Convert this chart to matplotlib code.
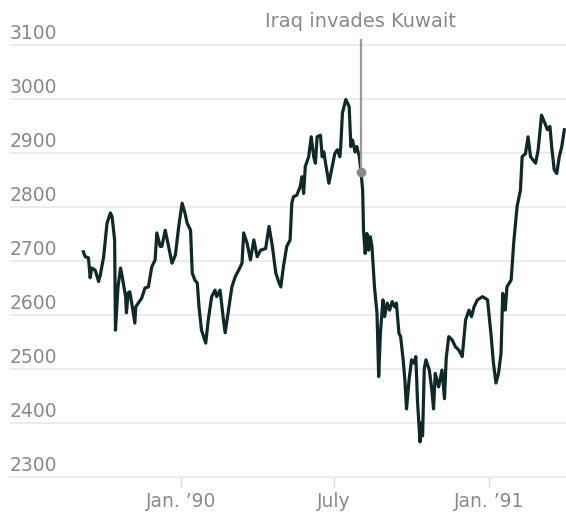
import matplotlib
matplotlib.use("Agg")
import matplotlib.pyplot as plt
import pandas as pd

# Dow Jones daily close
dates = [
    "1989-09-07", "1989-09-09", "1989-09-13", "1989-09-15", "1989-09-17", "1989-09-21",
    "1989-09-25", "1989-09-27", "1989-10-01", "1989-10-05", "1989-10-09", "1989-10-11",
    "1989-10-14", "1989-10-15", "1989-10-18", "1989-10-21", "1989-10-23", "1989-10-25",
    "1989-10-27", "1989-10-28", "1989-10-30", "1989-11-01", "1989-11-04", "1989-11-07",
    "1989-11-08", "1989-11-11", "1989-11-15", "1989-11-19", "1989-11-23", "1989-11-27",
    "1989-12-01", "1989-12-03", "1989-12-07", "1989-12-09", "1989-12-13", "1989-12-17",
    "1989-12-21", "1989-12-25", "1989-12-29",
    "1990-01-02", "1990-01-05", "1990-01-08", "1990-01-12", "1990-01-14", "1990-01-17",
    "1990-01-20", "1990-01-22", "1990-01-25", "1990-01-30", "1990-02-02", "1990-02-06",
    "1990-02-10", "1990-02-12", "1990-02-16", "1990-02-20", "1990-02-22", "1990-02-26",
    "1990-03-02", "1990-03-06", "1990-03-10", "1990-03-14", "1990-03-16", "1990-03-20",
    "1990-03-24", "1990-03-28", "1990-04-01", "1990-04-05", "1990-04-11", "1990-04-15",
    "1990-04-19", "1990-04-23", "1990-04-27", "1990-04-29", "1990-05-02", "1990-05-06",
    "1990-05-10", "1990-05-12", "1990-05-14", "1990-05-18", "1990-05-22", "1990-05-24",
    "1990-05-26", "1990-05-28", "1990-06-01", "1990-06-04", "1990-06-07", "1990-06-09",
    "1990-06-11", "1990-06-15", "1990-06-17", "1990-06-19", "1990-06-21", "1990-06-25",
    "1990-06-29", "1990-07-02", "1990-07-05", "1990-07-08", "1990-07-09", "1990-07-11",
    "1990-07-15", "1990-07-19", "1990-07-21", "1990-07-23", "1990-07-26", "1990-07-28",
    "1990-07-31", "1990-08-02", "1990-08-04", "1990-08-05", "1990-08-07", "1990-08-09",
    "1990-08-11", "1990-08-13", "1990-08-15", "1990-08-18", "1990-08-21", "1990-08-23",
    "1990-08-25", "1990-08-28", "1990-08-30", "1990-09-02", "1990-09-05", "1990-09-08",
    "1990-09-11", "1990-09-13", "1990-09-16", "1990-09-18", "1990-09-21", "1990-09-23",
    "1990-09-25", "1990-09-28", "1990-10-01", "1990-10-04", "1990-10-06", "1990-10-08",
    "1990-10-11", "1990-10-12", "1990-10-14", "1990-10-16", "1990-10-18", "1990-10-22",
    "1990-10-25", "1990-10-27", "1990-10-29", "1990-11-02", "1990-11-06", "1990-11-09",
    "1990-11-11", "1990-11-14", "1990-11-18", "1990-11-22", "1990-11-26", "1990-11-30",
    "1990-12-04", "1990-12-08", "1990-12-11", "1990-12-14", "1990-12-18", "1990-12-24",
    "1990-12-30",
    "1991-01-03", "1991-01-06", "1991-01-09", "1991-01-12", "1991-01-15", "1991-01-17",
    "1991-01-20", "1991-01-22", "1991-01-27", "1991-01-30", "1991-02-03", "1991-02-07",
    "1991-02-09", "1991-02-13", "1991-02-16", "1991-02-19", "1991-02-25", "1991-02-28",
    "1991-03-04", "1991-03-08", "1991-03-11", "1991-03-14", "1991-03-16", "1991-03-19",
    "1991-03-22", "1991-03-25", "1991-03-28", "1991-03-31",
]
dow = [
    2717, 2708, 2706, 2669, 2687, 2683,
    2662, 2674, 2708, 2770, 2789, 2782,
    2739, 2572, 2652, 2687, 2671, 2652,
    2634, 2604, 2641, 2643, 2615, 2585,
    2615, 2622, 2631, 2650, 2652, 2689,
    2702, 2752, 2727, 2727, 2757, 2727,
    2696, 2711, 2764,
    2807, 2791, 2770, 2757, 2678, 2665,
    2659, 2615, 2572, 2548, 2591, 2634,
    2646, 2634, 2646, 2591, 2567, 2609,
    2652, 2671, 2683, 2696, 2752, 2733,
    2702, 2739, 2708, 2720, 2723, 2764,
    2727, 2678, 2659, 2652, 2689, 2727,
    2739, 2807, 2819, 2822, 2838, 2856,
    2825, 2875, 2893, 2930, 2893, 2881,
    2930, 2933, 2893, 2902, 2881, 2844,
    2875, 2899, 2906, 2893, 2912, 2974,
    2999, 2986, 2912, 2924, 2902, 2912,
    2893, 2865, 2831, 2757, 2714, 2751,
    2720, 2745, 2727, 2652, 2603, 2486,
    2566, 2628, 2597, 2622, 2609, 2625,
    2615, 2622, 2566, 2560, 2517, 2480,
    2426, 2480, 2517, 2511, 2523, 2440,
    2365, 2400, 2376, 2500, 2517, 2498,
    2461, 2426, 2492, 2467, 2498, 2445,
    2520, 2560, 2554, 2541, 2535, 2523,
    2591, 2609, 2597, 2615, 2628, 2634,
    2628,
    2566, 2511, 2474, 2492, 2529, 2640,
    2609, 2652, 2665, 2733, 2801, 2831,
    2893, 2899, 2930, 2893, 2881, 2906,
    2970, 2955, 2943, 2949, 2912, 2869,
    2862, 2893, 2912, 2943,
]

yticks = [2300, 2400, 2500, 2600, 2700, 2800, 2900, 3000, 3100]
xtick_dates = ["1990-01-01", "1990-07-01", "1991-01-01"]
xtick_labels = ["Jan. \u201990", "July", "Jan. \u201991"]

event_date = "1990-08-02"
event_value = 2865
event_label = "Iraq invades Kuwait"

grid_c = "#ebebeb"
text_c = "#858a8e"
line_c = "#0f2828"

plt.rcParams["font.family"] = ["DejaVu Sans"]

fig = plt.figure(figsize=(5.66, 5.12), dpi=100)
ax = fig.add_axes([10 / 566, 35 / 512, 556 / 566, 437.4 / 512])

x = pd.to_datetime(dates)
ax.plot(x, dow, color=line_c, lw=2.3, solid_joinstyle="round", zorder=3)

ax.set_xlim(pd.Timestamp("1989-06-12"), pd.Timestamp("1991-04-02"))
ax.set_ylim(2300, 3110)

ax.set_yticks(yticks)
ax.yaxis.grid(True, color=grid_c, lw=1.5, zorder=0)
ax.tick_params(axis="y", length=0, labelleft=False)
for v in yticks:
    ax.annotate(str(v), xy=(0, v), xycoords=("axes fraction", "data"),
                xytext=(0, 4), textcoords="offset points",
                ha="left", va="baseline", fontsize=13.5, color=text_c)

ax.set_xticks(pd.to_datetime(xtick_dates))
ax.set_xticklabels(xtick_labels)
ax.tick_params(axis="x", length=7.2, width=1, color="#dadada",
               pad=3.5, labelsize=13.5, labelcolor=text_c)

for s in ["top", "right", "left"]:
    ax.spines[s].set_visible(False)
ax.spines["bottom"].set_color(grid_c)
ax.spines["bottom"].set_linewidth(1.5)

# event marker
ev = pd.Timestamp(event_date)
ax.plot([ev, ev], [event_value, 3110], color="#999999", lw=1.6, zorder=4,
        clip_on=False)
ax.plot([ev], [event_value], "o", color="#8a8a8a", ms=6, zorder=5)
ax.annotate(event_label, xy=(ev, 3110), xycoords="data",
            xytext=(0, 9), textcoords="offset points",
            ha="center", va="baseline", fontsize=14, color=text_c,
            annotation_clip=False)

fig.savefig("out.png", dpi=100)
